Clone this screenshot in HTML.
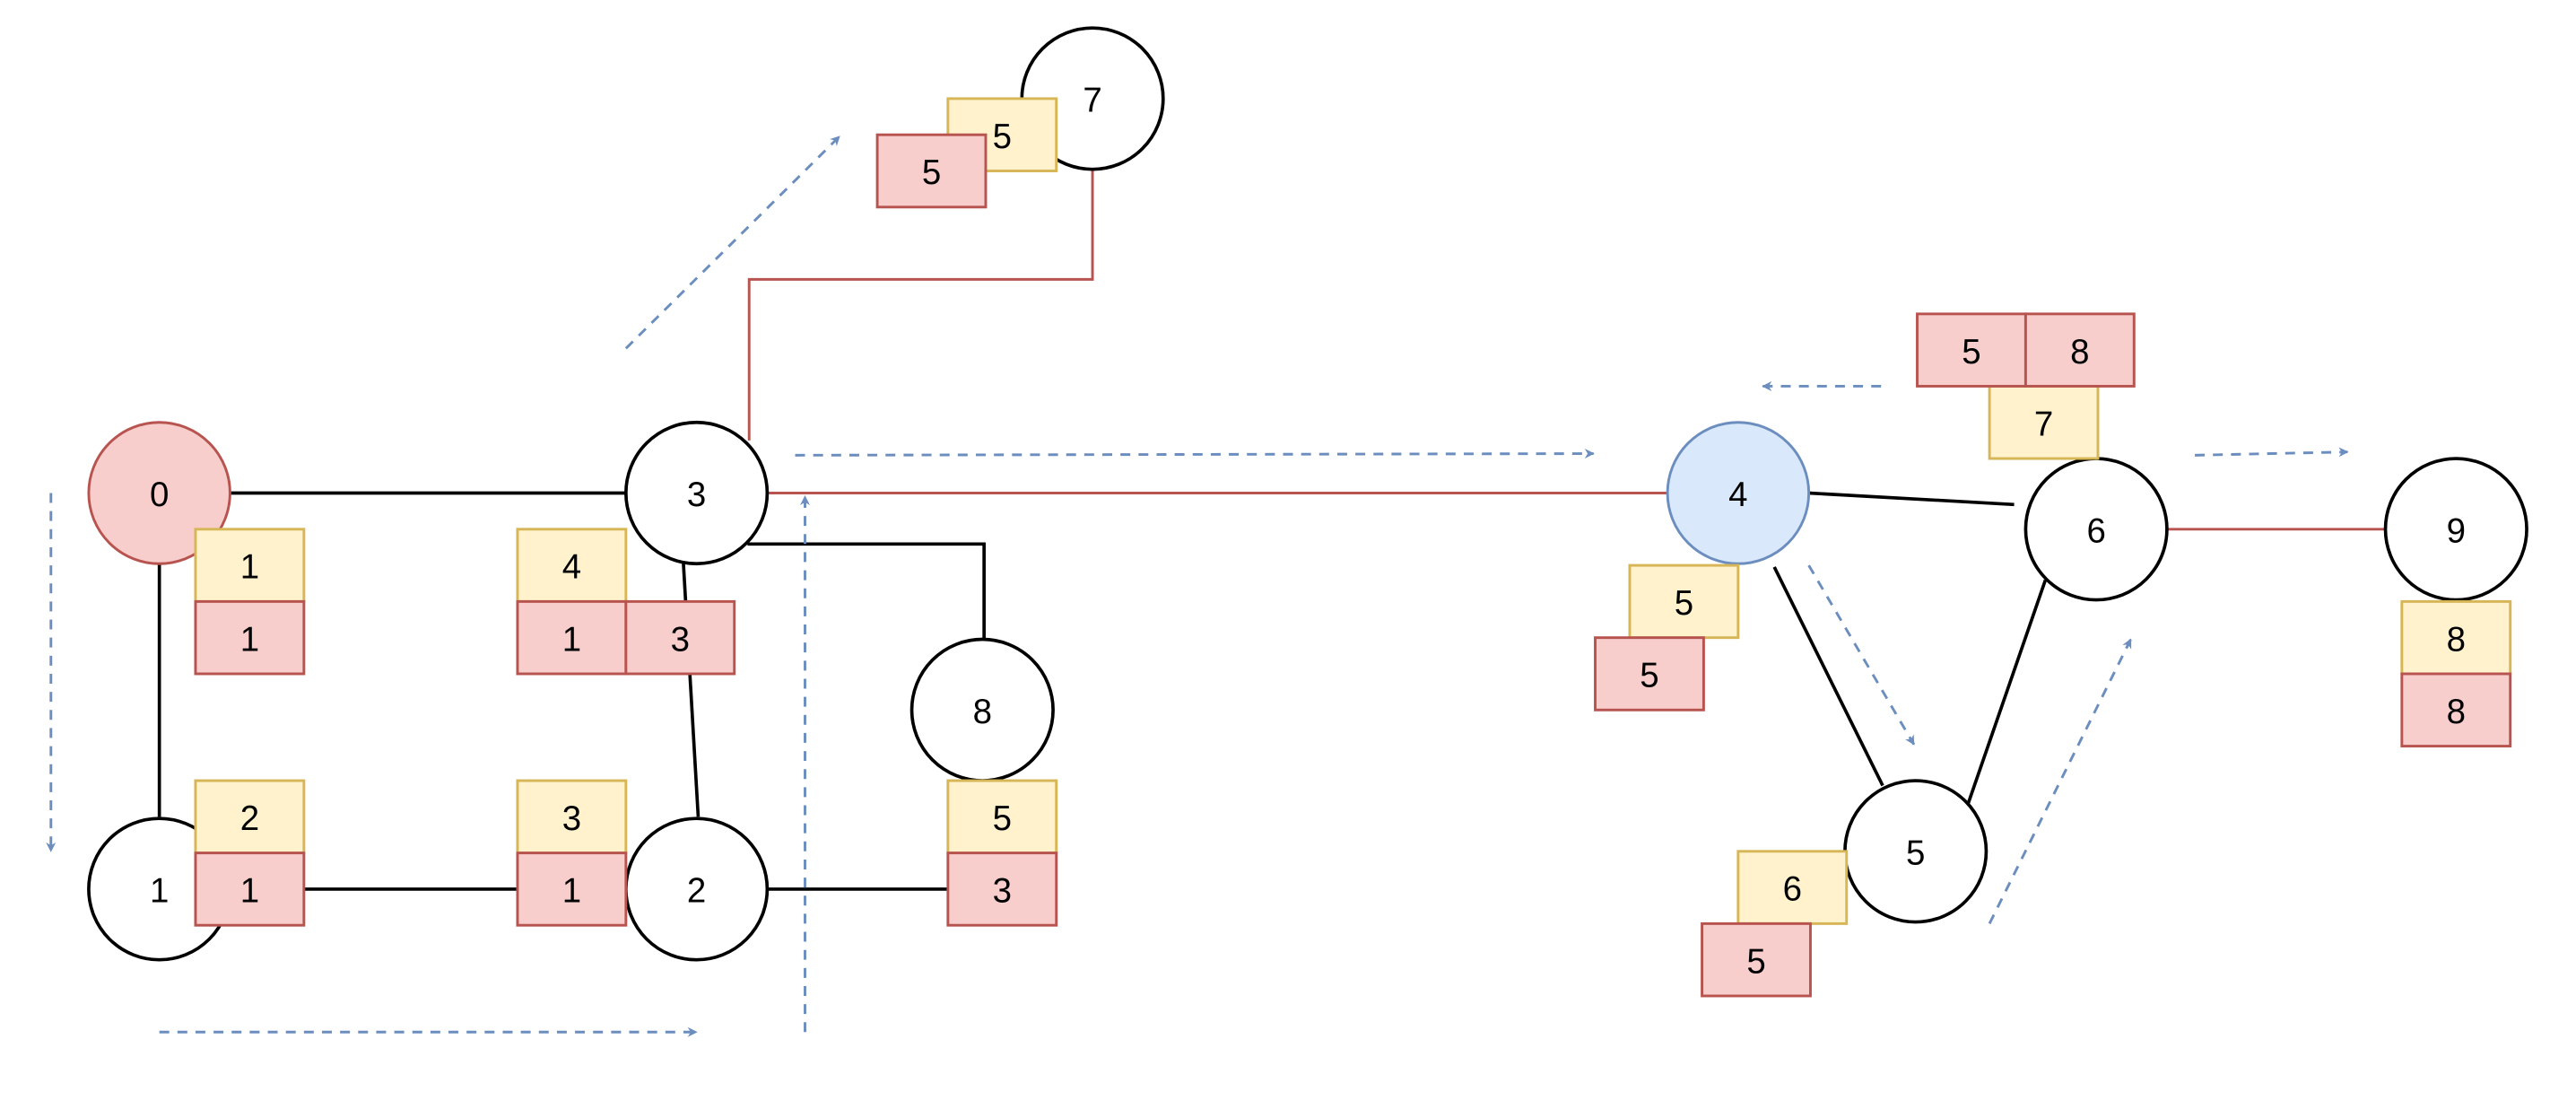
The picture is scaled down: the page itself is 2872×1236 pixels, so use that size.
<!DOCTYPE html>
<html><head><meta charset="utf-8"><style>html,body{margin:0;padding:0;background:#fff}svg{display:block}</style></head>
<body>
<svg width="2872" height="1236" viewBox="0 0 1568 674.8" xmlns="http://www.w3.org/2000/svg" font-family="Liberation Sans, Arial, sans-serif" font-size="21">
<defs>
<marker id="a" viewBox="0 0 10 10" refX="9" refY="5" markerWidth="6" markerHeight="6" markerUnits="userSpaceOnUse" orient="auto"><path d="M0,0 L10,5 L0,10 L3,5 Z" fill="#6c8ebf"/></marker>
</defs>
<rect width="1568" height="675" fill="#fff"/>
<!-- edges -->
<g stroke="#000" stroke-width="2" fill="none">
<line x1="140" y1="300" x2="381" y2="300"/>
<line x1="97" y1="343" x2="97" y2="497"/>
<line x1="185" y1="541" x2="315" y2="541"/>
<line x1="416" y1="343" x2="425" y2="497"/>
<polyline points="455,331 599,331 599,389"/>
<line x1="467" y1="541" x2="577" y2="541"/>
<line x1="1101" y1="300" x2="1226" y2="307"/>
<line x1="1080" y1="345" x2="1146" y2="478"/>
<line x1="1245" y1="353" x2="1198" y2="489"/>
</g>
<g stroke="#b85450" stroke-width="1.6" fill="none">
<polyline points="456,268 456,170 665,170 665,103"/>
<line x1="467" y1="300" x2="1015" y2="300"/>
<line x1="1319" y1="322" x2="1452" y2="322"/>
</g>
<!-- dashed arrows -->
<g stroke="#6c8ebf" stroke-width="1.6" stroke-dasharray="6,5" fill="none" marker-end="url(#a)">
<line x1="31" y1="300" x2="31" y2="518"/>
<line x1="97" y1="628" x2="424" y2="628"/>
<line x1="490" y1="628" x2="490" y2="302"/>
<line x1="381" y1="212" x2="511" y2="83"/>
<line x1="484" y1="277" x2="970" y2="276"/>
<line x1="1145" y1="235" x2="1073" y2="235"/>
<line x1="1101" y1="344" x2="1165" y2="453"/>
<line x1="1211" y1="562" x2="1297" y2="389"/>
<line x1="1336" y1="277" x2="1429" y2="275"/>
</g>
<!-- nodes -->
<g stroke="#000" stroke-width="2" fill="#fff">
<circle cx="424" cy="300" r="43"/>
<circle cx="97" cy="541" r="43"/>
<circle cx="424" cy="541" r="43"/>
<circle cx="598" cy="432" r="43"/>
<circle cx="665" cy="60" r="43"/>
<circle cx="1276" cy="322" r="43"/>
<circle cx="1166" cy="518" r="43"/>
<circle cx="1495" cy="322" r="43"/>
</g>
<circle cx="97" cy="300" r="43" fill="#f8cecc" stroke="#b85450" stroke-width="1.6"/>
<circle cx="1058" cy="300" r="43" fill="#dae8fc" stroke="#6c8ebf" stroke-width="1.6"/>
<g text-anchor="middle" fill="#000">
<text x="97" y="308">0</text><text x="424" y="308">3</text><text x="97" y="549">1</text><text x="424" y="549">2</text>
<text x="598" y="440">8</text><text x="665" y="68">7</text><text x="1058" y="308">4</text><text x="1276" y="330">6</text>
<text x="1166" y="526">5</text><text x="1495" y="330">9</text>
</g>
<!-- boxes -->
<g stroke-width="1.6">
<g fill="#fff2cc" stroke="#d6b656">
<rect x="119" y="322" width="66" height="44"/>
<rect x="315" y="322" width="66" height="44"/>
<rect x="119" y="475" width="66" height="44"/>
<rect x="315" y="475" width="66" height="44"/>
<rect x="577" y="475" width="66" height="44"/>
<rect x="577" y="60" width="66" height="44"/>
<rect x="992" y="344" width="66" height="44"/>
<rect x="1211" y="235" width="66" height="44"/>
<rect x="1058" y="518" width="66" height="44"/>
<rect x="1462" y="366" width="66" height="44"/>
</g>
<g fill="#f8cecc" stroke="#b85450">
<rect x="119" y="366" width="66" height="44"/>
<rect x="315" y="366" width="66" height="44"/>
<rect x="381" y="366" width="66" height="44"/>
<rect x="119" y="519" width="66" height="44"/>
<rect x="315" y="519" width="66" height="44"/>
<rect x="577" y="519" width="66" height="44"/>
<rect x="534" y="82" width="66" height="44"/>
<rect x="971" y="388" width="66" height="44"/>
<rect x="1167" y="191" width="66" height="44"/>
<rect x="1233" y="191" width="66" height="44"/>
<rect x="1036" y="562" width="66" height="44"/>
<rect x="1462" y="410" width="66" height="44"/>
</g>
</g>
<g text-anchor="middle" fill="#000">
<text x="152" y="352">1</text><text x="152" y="396">1</text>
<text x="348" y="352">4</text><text x="348" y="396">1</text><text x="414" y="396">3</text>
<text x="152" y="505">2</text><text x="152" y="549">1</text>
<text x="348" y="505">3</text><text x="348" y="549">1</text>
<text x="610" y="505">5</text><text x="610" y="549">3</text>
<text x="610" y="90">5</text><text x="567" y="112">5</text>
<text x="1025" y="374">5</text><text x="1004" y="418">5</text>
<text x="1200" y="221">5</text><text x="1266" y="221">8</text><text x="1244" y="265">7</text>
<text x="1091" y="548">6</text><text x="1069" y="592">5</text>
<text x="1495" y="396">8</text><text x="1495" y="440">8</text>
</g>
</svg>
</body></html>
